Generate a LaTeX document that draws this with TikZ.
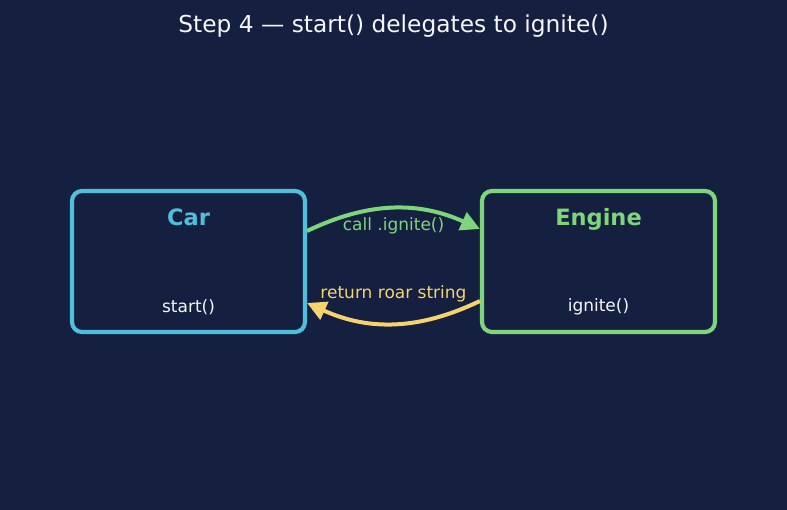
\documentclass[tikz,border=0pt]{standalone}
\usepackage{fontspec}
\setmainfont{DejaVu Sans}
\usetikzlibrary{arrows.meta}
\definecolor{bg}{HTML}{152040}
\definecolor{carc}{HTML}{4EC0DC}
\definecolor{engc}{HTML}{7ED67A}
\definecolor{retc}{HTML}{F5D36E}
\definecolor{titc}{HTML}{F4F6FA}
\tikzset{
  classbox/.style={draw, line width=4.2pt, rounded corners=10pt, fill=bg,
    minimum width=233pt, minimum height=141pt, inner sep=0pt},
  boxtitle/.style={font=\fontsize{22.5}{26}\selectfont\bfseries, inner sep=0pt, anchor=center},
  method/.style={font=\fontsize{17}{20}\selectfont, text=titc, inner sep=0pt, anchor=center},
  lbl/.style={font=\fontsize{17}{20}\selectfont, inner sep=0pt, anchor=center},
  flow/.style={line width=4pt, -{Triangle[length=19pt,width=19pt]}},
}
\begin{document}
\begin{tikzpicture}[x=1pt,y=-1pt]
\fill[bg] (0,0) rectangle (787,510);
\useasboundingbox (0,0) rectangle (787,510);
\node[method, font=\fontsize{23.3}{27}\selectfont] (title) at (393.5,26.5) {Step 4 — start() delegates to ignite()};
\node[classbox, draw=carc] (car) at (188.5,261.5) {};
\node[classbox, draw=engc] (engine) at (598.5,261.5) {};
\node[boxtitle, text=carc] (cart) at (188.5,217.5) {Car};
\node[boxtitle, text=engc] (engt) at (598.5,219) {Engine};
\node[method] (start) at (188.5,307) {start()};
\node[method] (ignite) at (598.5,307) {ignite()};
\draw[flow, draw=engc] ([yshift=30.5pt]car.east) to[bend left=25] ([yshift=32.5pt]engine.west);
\draw[flow, draw=retc] ([yshift=-39.5pt]engine.west) to[bend left=25] ([yshift=-41.5pt]car.east);
\node[lbl, text=engc] (calllbl) at (393.5,226) {call .ignite()};
\node[lbl, text=retc] (retlbl) at (393.5,294) {return roar string};
\end{tikzpicture}
\end{document}
